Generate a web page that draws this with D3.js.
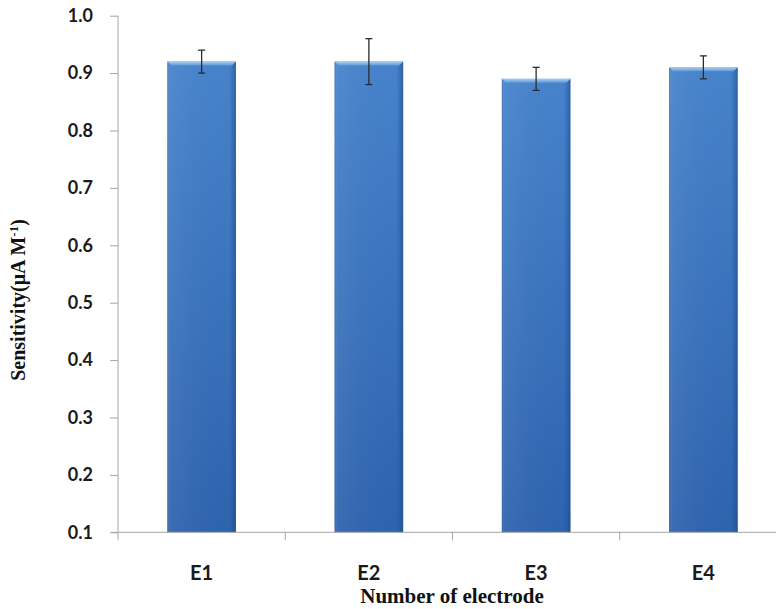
<!DOCTYPE html>
<html>
<head>
<meta charset="utf-8">
<script src="https://cdn.jsdelivr.net/npm/d3@7"></script>
<style>
  html, body { margin: 0; padding: 0; background: #fff; }
  svg { display: block; }
</style>
</head>
<body>
<svg id="chart" width="776" height="609"></svg>
<script>
// Sensitivity of each electrode, with standard deviation
const electrodes = ["E1", "E2", "E3", "E4"];
const sensitivity = [0.92, 0.92, 0.89, 0.91];
const errors = [0.02, 0.04, 0.02, 0.02];
const yTicks = [0.1, 0.2, 0.3, 0.4, 0.5, 0.6, 0.7, 0.8, 0.9, 1.0];

const width = 776, height = 609;
const svg = d3.select("#chart");

const x = d3.scaleBand().domain(electrodes).range([118, 787]).paddingInner(0.59).paddingOuter(0.295);
const y = d3.scaleLinear().domain([0.1, 1.0]).range([532.3, 15.7]);

const axisColor = "#a6a6a6";

// gradients for the bevelled bars
const defs = svg.append("defs");
const gv = defs.append("linearGradient").attr("id", "barFill").attr("x1", 0).attr("y1", 0).attr("x2", 0).attr("y2", 1);
gv.append("stop").attr("offset", "0%").attr("stop-color", "#4683cb");
gv.append("stop").attr("offset", "100%").attr("stop-color", "#2e63ae");
const gh = defs.append("linearGradient").attr("id", "barSide").attr("x1", 0).attr("y1", 0).attr("x2", 1).attr("y2", 0);
gh.append("stop").attr("offset", "0%").attr("stop-color", "#1f4f8f").attr("stop-opacity", 0.35);
gh.append("stop").attr("offset", "4%").attr("stop-color", "#ffffff").attr("stop-opacity", 0.06);
gh.append("stop").attr("offset", "90%").attr("stop-color", "#1f4f8f").attr("stop-opacity", 0.0);
gh.append("stop").attr("offset", "100%").attr("stop-color", "#1a437c").attr("stop-opacity", 0.55);
const gt = defs.append("linearGradient").attr("id", "barTop").attr("x1", 0).attr("y1", 0).attr("x2", 0).attr("y2", 1);
gt.append("stop").attr("offset", "0%").attr("stop-color", "#a9cdf3");
gt.append("stop").attr("offset", "100%").attr("stop-color", "#5d97d8");

const bars = svg.append("g").selectAll("g").data(electrodes).join("g");
const bw = x.bandwidth();

bars.append("rect")
  .attr("x", d => x(d)).attr("y", (d, i) => y(sensitivity[i]))
  .attr("width", bw).attr("height", (d, i) => y(0.1) - y(sensitivity[i]))
  .attr("fill", "url(#barFill)");
bars.append("rect")
  .attr("x", d => x(d)).attr("y", (d, i) => y(sensitivity[i]))
  .attr("width", bw).attr("height", (d, i) => y(0.1) - y(sensitivity[i]))
  .attr("fill", "url(#barSide)");
// light bevel along the top edge
bars.append("path")
  .attr("d", (d, i) => {
    const x0 = x(d), x1 = x(d) + bw, t = y(sensitivity[i]), b = 4;
    return `M${x0},${t} L${x1},${t} L${x1 - b},${t + b} L${x0 + b},${t + b} Z`;
  })
  .attr("fill", "url(#barTop)");

// y axis
const yAxis = svg.append("g").attr("transform", "translate(118,0)")
  .call(d3.axisLeft(y).tickValues(yTicks).tickFormat(d3.format(".1f")).tickSize(8).tickPadding(17));
yAxis.select(".domain").attr("stroke", axisColor).attr("d", `M0,${y(1.0)}V${y(0.1) + 8}`);
yAxis.selectAll(".tick line").attr("stroke", axisColor);
yAxis.selectAll(".tick text")
  .attr("fill", "#1a1a1a").attr("font-family", "Lato, 'Open Sans', sans-serif")
  .attr("font-weight", 700).attr("font-size", 18);

// x axis with ticks at the category boundaries
const xg = svg.append("g");
xg.append("line").attr("x1", 111).attr("x2", width).attr("y1", y(0.1)).attr("y2", y(0.1))
  .attr("stroke", axisColor);
const bounds = electrodes.map(d => x(d) - x.step() * x.paddingInner() / 2 - (d === electrodes[0] ? x.step() * (x.paddingOuter() - x.paddingInner() / 2) : 0));
xg.selectAll(".bt").data(bounds.slice(1)).join("line")
  .attr("x1", d => d).attr("x2", d => d).attr("y1", y(0.1)).attr("y2", y(0.1) + 8)
  .attr("stroke", axisColor);
xg.selectAll("text").data(electrodes).join("text")
  .attr("x", d => x(d) + bw / 2).attr("y", 580)
  .attr("text-anchor", "middle").attr("fill", "#1a1a1a")
  .attr("font-family", "Lato, 'Open Sans', sans-serif").attr("font-weight", 700).attr("font-size", 20)
  .text(d => d);

// error bars
const eb = svg.append("g").attr("stroke", "#2b2b2b").attr("stroke-width", 1.3);
electrodes.forEach((d, i) => {
  const cx = x(d) + bw / 2;
  const lo = y(sensitivity[i] - errors[i]), hi = y(sensitivity[i] + errors[i]);
  eb.append("line").attr("x1", cx).attr("x2", cx).attr("y1", hi).attr("y2", lo);
  eb.append("line").attr("x1", cx - 3.5).attr("x2", cx + 3.5).attr("y1", hi).attr("y2", hi);
  eb.append("line").attr("x1", cx - 3.5).attr("x2", cx + 3.5).attr("y1", lo).attr("y2", lo);
});

// axis titles
svg.append("text")
  .attr("x", 452).attr("y", 603).attr("text-anchor", "middle")
  .attr("font-family", "'Liberation Serif', 'DejaVu Serif', serif").attr("font-weight", 700)
  .attr("font-size", 21).attr("fill", "#111")
  .text("Number of electrode");

const yt = svg.append("text")
  .attr("transform", "translate(25,300) rotate(-90)").attr("text-anchor", "middle")
  .attr("font-family", "'Liberation Serif', 'DejaVu Serif', serif").attr("font-weight", 700)
  .attr("font-size", 20).attr("fill", "#111");
yt.append("tspan").text("Sensitivity(\u03bcA M");
yt.append("tspan").attr("font-size", 13).attr("dy", -7).text("-1");
yt.append("tspan").attr("dy", 7).text(")");
</script>
</body>
</html>
